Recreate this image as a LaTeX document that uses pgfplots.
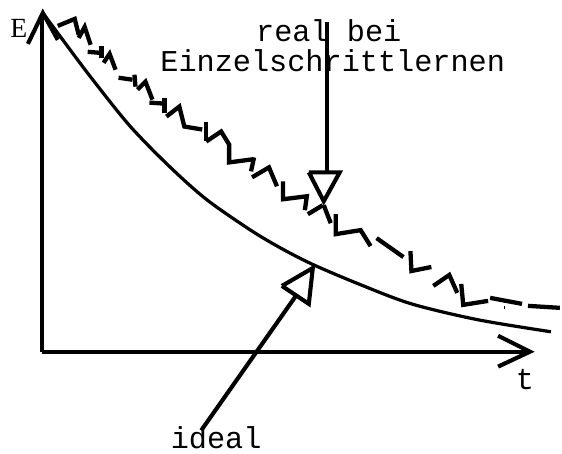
\documentclass[border=0pt]{standalone}
\usepackage{fontspec}
\setmainfont{Liberation Serif}
\newfontfamily\cour{Liberation Mono}
\usepackage{pgfplots}
\pgfplotsset{compat=1.18}
\pgfplotsset{zz/.style={black,solid,no markers,line width=2.4pt,line join=miter}}
\begin{document}
\begin{tikzpicture}
\begin{axis}[width=11cm,height=8.906cm,scale only axis,
  xmin=0,xmax=562,ymin=0,ymax=455,y dir=reverse,hide axis,clip=false]
\addplot[draw=none,no markers] coordinates {(0,0) (562,455)};
% axes
\addplot[zz,line width=2.3pt] coordinates {(42,353) (42,14)};
\addplot[zz,line width=2.3pt] coordinates {(28,44) (43,13) (58,40)};
\addplot[zz,line width=2.3pt] coordinates {(42,353) (530,353)};
\addplot[zz,line width=2.3pt] coordinates {(500,337) (532,353) (500,368)};
% ideal curve
\addplot[zz,line width=1.8pt,smooth] coordinates {(43,13) (63,40) (90,76) (130,126) (170,167) (207,200) (250,230) (280,248) (313,265) (360,285) (413,305) (480,321) (553,333)};
% real zigzag
\addplot[zz] coordinates {(58,26) (75,19) (79,35)};
\addplot[zz] coordinates {(79,38) (85,27) (91,45)};
\addplot[zz] coordinates {(88,52) (100,53)};
\addplot[zz] coordinates {(102,46) (102,58)};
\addplot[zz] coordinates {(104,63) (110,54) (116,70)};
\addplot[zz] coordinates {(119,78) (133,80)};
\addplot[zz] coordinates {(135,75) (136,87)};
\addplot[zz] coordinates {(138,90) (146,82) (153,100)};
\addplot[zz] coordinates {(150,103) (165,104)};
\addplot[zz] coordinates {(165,98) (165,113)};
\addplot[zz] coordinates {(167,117) (180,107) (185,127) (203,130)};
\addplot[zz] coordinates {(207,122) (207,142)};
\addplot[zz] coordinates {(207,142) (222,132) (230,145) (230,163) (253,160)};
\addplot[zz] coordinates {(255,158) (252,172)};
\addplot[zz] coordinates {(253,178) (270,168) (278,187)};
\addplot[zz] coordinates {(284,182) (284,200) (308,197) (306,211)};
\addplot[zz] coordinates {(309,215) (324,206)};
\addplot[zz] coordinates {(325,206) (332,224)};
\addplot[zz] coordinates {(337,215) (337,235) (362,231) (372,247)};
\addplot[zz] coordinates {(378,239) (405,258)};
\addplot[zz] coordinates {(412,252) (413,272) (433,268)};
\addplot[zz] coordinates {(435,287) (451,276) (459,294)};
\addplot[zz] coordinates {(463,285) (465,306) (490,302)};
\addplot[zz] coordinates {(492,299) (524,305)};
\addplot[zz] coordinates {(530,307) (562,309)};
\addplot[zz,line width=0.6pt] coordinates {(506,307) (506,310)};
% arrows
\addplot[zz,line width=2.3pt] coordinates {(328,22) (328,173)};
\addplot[zz,line width=2.3pt] coordinates {(310,173) (341,173) (325,202) (310,173)};
\addplot[zz,line width=2.3pt] coordinates {(202,432) (297,297)};
\addplot[zz,line width=2.3pt] coordinates {(283,287) (314,269) (310,305) (283,287)};
% labels
\node[anchor=base,font=\cour\fontsize{16.9}{18}\selectfont,inner sep=0pt] at (axis cs:330,42) {real bei};
\node[anchor=base,font=\cour\fontsize{16.9}{18}\selectfont,inner sep=0pt] at (axis cs:334,72) {Einzelschrittlernen};
\node[anchor=base,font=\cour\fontsize{16.9}{18}\selectfont,inner sep=0pt] at (axis cs:217,450) {ideal};
\node[anchor=base,font=\cour\fontsize{16.9}{18}\selectfont,inner sep=0pt] at (axis cs:527,391) {t};
\node[anchor=base,font=\fontsize{15.5}{17}\selectfont,inner sep=0pt] at (axis cs:19,38) {E};
\end{axis}
\end{tikzpicture}
\end{document}
